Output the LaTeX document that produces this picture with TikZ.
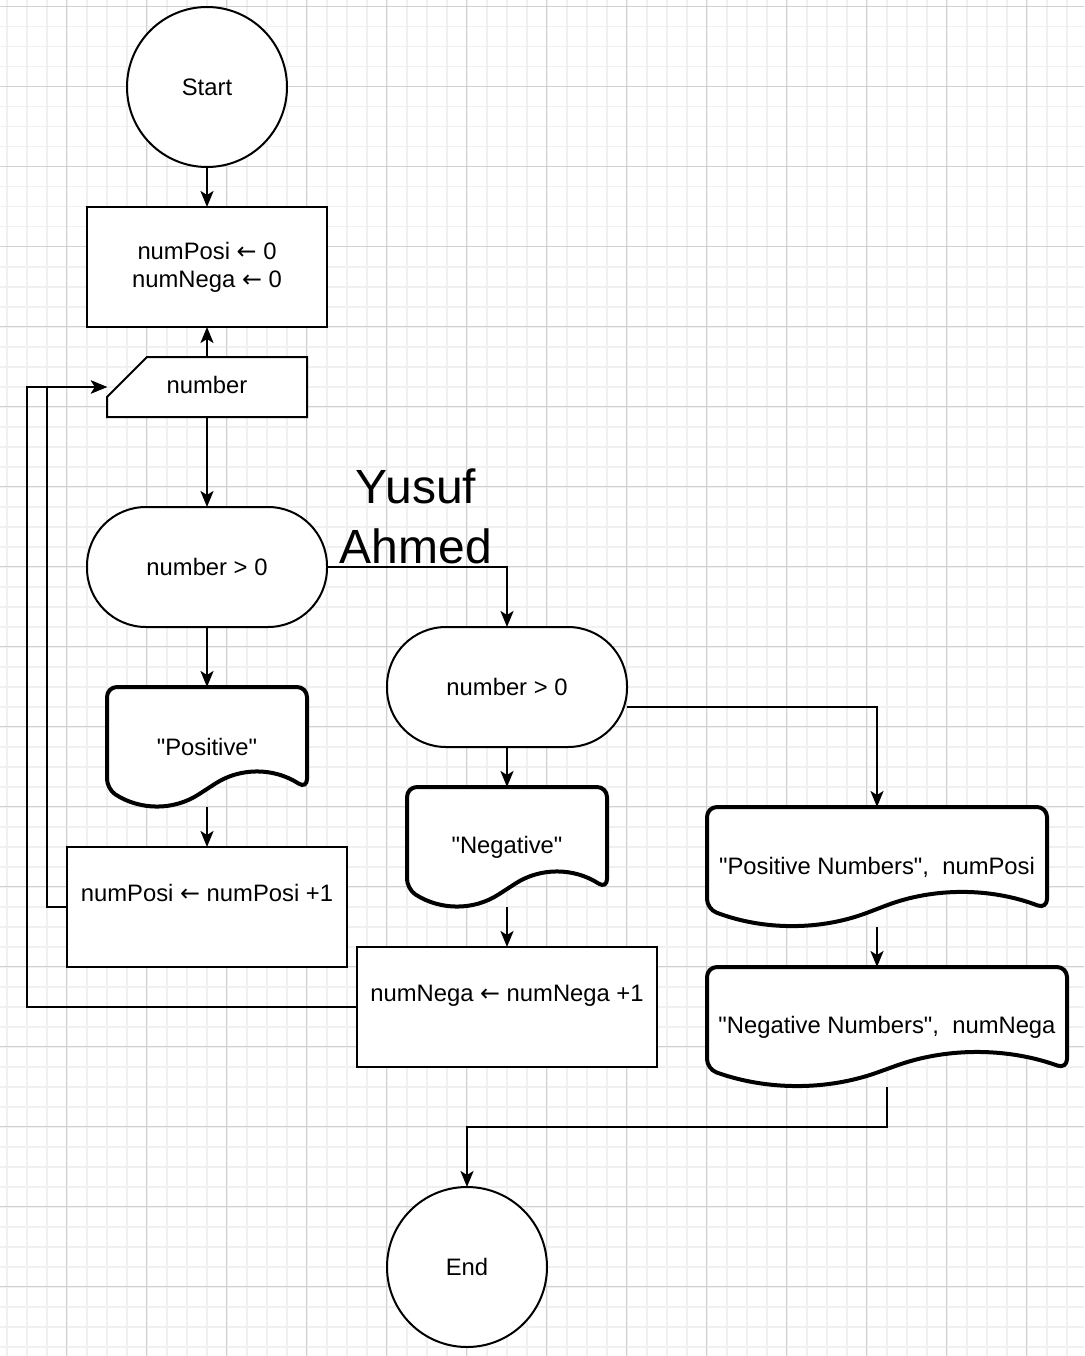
\documentclass[tikz,border=0pt]{standalone}
\usepackage{fontspec}
\setmainfont{Liberation Sans}[Ligatures=TeXOff]
\newfontfamily\arrowfont{DejaVu Sans}
\usetikzlibrary{arrows.meta,calc,backgrounds}
\pgfdeclarelayer{grid}
\pgfsetlayers{grid,background,main}

% assignment arrow
\newcommand{\getsarrow}{{\arrowfont ←}}
% document shape behind a named node: #1 node, #2 width
\newcommand{\docshape}[2]{%
  \begin{pgfonlayer}{background}
    \draw[docline]
      ($(#1.north west)+(#2,102)$)
      .. controls ($(#1.north west)+({5*#2/6},80.4)$) and ($(#1.north west)+({2*#2/3},80.4)$) .. ($(#1.north west)+({#2/2},102)$)
      .. controls ($(#1.north west)+({#2/3},123.6)$) and ($(#1.north west)+({#2/6},123.6)$) .. ($(#1.north west)+(0,102)$)
      -- (#1.north west) -- (#1.north east) -- cycle;
  \end{pgfonlayer}}

\begin{document}
\begin{tikzpicture}[x=1pt,y=-1pt,>={Stealth[length=16pt,width=13pt,inset=4pt]},
  txt/.style={font=\fontsize{23.8}{28}\selectfont, align=center},
  box/.style={txt, draw, fill=white, line width=2pt, minimum height=120pt, inner sep=0pt, outer sep=0pt},
  term/.style={txt, circle, draw, fill=white, line width=2pt, minimum size=160pt, inner sep=0pt, outer sep=0pt},
  pill/.style={box, rounded corners=59pt, minimum width=240pt},
  doc/.style={txt, minimum height=120pt, inner sep=0pt, outer sep=0pt},
  docline/.style={draw, fill=white, line width=4pt, rounded corners=10pt},
  flow/.style={->, line width=2.4pt},
  minorgrid/.style={black!6, line width=1.6pt},
  majorgrid/.style={black!18, line width=1pt}]
  \useasboundingbox (0,0) rectangle (1084,1356);
  % ---- grid ----
  \begin{pgfonlayer}{grid}
    \fill[white] (0,0) rectangle (1084,1356);
    \foreach \g in {0,...,53} \draw[minorgrid] ({6.7+20*\g},0) -- ({6.7+20*\g},1356);
    \foreach \g in {0,...,67} \draw[minorgrid] (0,{6.7+20*\g}) -- (1084,{6.7+20*\g});
    \foreach \g in {1,...,13} \draw[majorgrid] ({-13.3+80*\g},0) -- ({-13.3+80*\g},1356);
    \foreach \g in {0,...,16} \draw[majorgrid] (0,{6.7+80*\g}) -- (1084,{6.7+80*\g});
  \end{pgfonlayer}
  % ---- left column ----
  \node[term] (start) at (207,87) {Start};
  \node[box, minimum width=240pt] (init) at (207,267) {numPosi \getsarrow\ 0\\numNega \getsarrow\ 0};
  \node[txt, minimum width=200pt, minimum height=60pt, inner sep=0pt, outer sep=0pt] (num) at (207,385) {number};
  \begin{pgfonlayer}{background}
    \draw[line width=2pt, fill=white] ($(num.north west)+(0,42)$) -- ($(num.north west)+(40,2)$)
      -- ($(num.north east)+(0,2)$) -- ($(num.south east)+(0,2)$) -- ($(num.south west)+(0,2)$) -- cycle;
  \end{pgfonlayer}
  \coordinate (numin) at ($(num.west)+(0,2)$);
  \node[pill] (dec1) at (207,567) {number > 0};
  \node[doc, minimum width=200pt] (pos) at (207,747) {"Positive"};
  \docshape{pos}{200}
  \node[box, minimum width=280pt] (incposi) at (207,907) {numPosi \getsarrow\ numPosi +1\\\mbox{}};
  % ---- middle column ----
  \node[pill] (dec2) at (507,687) {number > 0};
  \node[doc, minimum width=200pt] (neg) at (507,847) {"Negative"};
  \docshape{neg}{200}
  \node[box, minimum width=300pt] (incnega) at (507,1007) {numNega \getsarrow\ numNega +1\\\mbox{}};
  \node[term] (end) at (467,1267) {End};
  % ---- right column ----
  \node[doc, minimum width=340pt] (posnum) at (877,867) {"Positive Numbers",\ \ numPosi};
  \docshape{posnum}{340}
  \node[doc, minimum width=360pt] (negnum) at (887,1027) {"Negative Numbers",\ \ numNega};
  \docshape{negnum}{360}
  \node[font=\fontsize{48}{60}\selectfont, align=center] (author) at (416,516) {Yusuf\\Ahmed};
  % ---- connectors ----
  \draw[flow] (start) -- (init);
  \draw[flow] ([yshift=-2pt]num.north) -- (init);
  \draw[flow] ([yshift=-2pt]num.south) -- (dec1);
  \draw[flow] (dec1.east) -| (dec2.north);
  \draw[flow] (dec1) -- (pos);
  \draw[flow] (pos) -- (incposi);
  \draw[flow] (incposi.west) -- ++(-20,0) |- (numin);
  \draw[flow] (incnega.west) -- ++(-330,0) |- (numin);
  \draw[flow] (dec2) -- (neg);
  \draw[flow] (neg) -- (incnega);
  \draw[flow] ([yshift=-20pt]dec2.east) -| (posnum.north);
  \draw[flow] (posnum.south) -- (posnum.south |- negnum.north);
  \draw[flow] (negnum.south) -- ++(0,40) -| (end.north);
\end{tikzpicture}
\end{document}
